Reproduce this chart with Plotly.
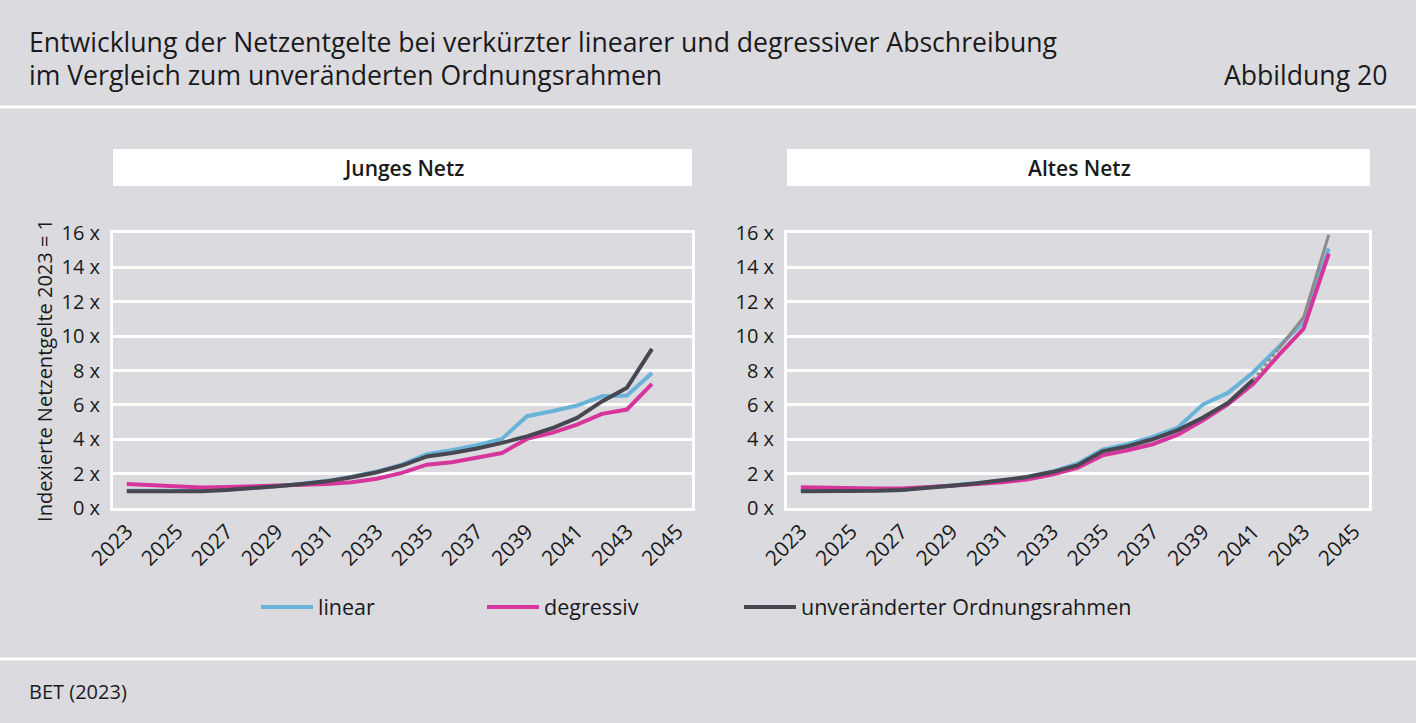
import plotly.graph_objects as go

# Jahre auf der x-Achse
years = list(range(2023, 2045))
tick_years = list(range(2023, 2046, 2))
y_ticks = [0, 2, 4, 6, 8, 10, 12, 14, 16]
y_labels = [f"{v} x" for v in y_ticks]

jung_linear = [1.0, 1.0, 1.0, 1.0, 1.07, 1.15, 1.27, 1.41, 1.57, 1.82, 2.12, 2.52,
               3.13, 3.36, 3.65, 4.02, 5.34, 5.63, 5.96, 6.5, 6.54, 7.86]
jung_degressiv = [1.4, 1.34, 1.27, 1.2, 1.22, 1.25, 1.29, 1.33, 1.39, 1.5, 1.7, 2.04,
                  2.52, 2.66, 2.91, 3.2, 4.02, 4.37, 4.85, 5.48, 5.73, 7.22]
jung_unveraendert = [0.98, 0.98, 0.98, 0.98, 1.05, 1.13, 1.26, 1.4, 1.55, 1.79, 2.08, 2.47,
                     3.0, 3.2, 3.46, 3.79, 4.17, 4.64, 5.24, 6.2, 7.0, 9.26]

alt_linear = [1.0, 1.0, 1.0, 1.0, 1.05, 1.2, 1.3, 1.44, 1.6, 1.8, 2.12, 2.58,
              3.4, 3.71, 4.14, 4.68, 6.03, 6.71, 7.9, 9.36, 10.82, 15.1]
alt_degressiv = [1.21, 1.17, 1.15, 1.13, 1.13, 1.2, 1.3, 1.4, 1.5, 1.66, 1.95, 2.34,
                 3.06, 3.36, 3.71, 4.27, 5.11, 6.05, 7.22, 8.88, 10.43, 14.8]
alt_unveraendert = [0.98, 0.98, 0.99, 1.0, 1.05, 1.2, 1.3, 1.44, 1.6, 1.8, 2.09, 2.48,
                    3.3, 3.59, 4.0, 4.53, 5.27, 6.13, 7.46]
alt_unv_years = list(range(2023, 2042))
# Fortsetzung des unveraenderten Rahmens (grau)
alt_fort_years = [2041, 2042, 2043, 2044]
alt_fort = [7.46, 9.25, 11.1, 15.9]

BG = "#dbdadf"
BLUE = "#69b3d8"
PINK = "#d6369b"
DARK = "#474752"
GRAY = "#8f8c88"
TXT = "#1a1a1a"
FONT = "Open Sans"

fig = go.Figure()

panels = [
    ("x", "y", jung_linear, jung_degressiv, jung_unveraendert, years),
    ("x2", "y2", alt_linear, alt_degressiv, alt_unveraendert, alt_unv_years),
]
for i, (xa, ya, lin, deg, unv, unv_x) in enumerate(panels):
    first = i == 0
    fig.add_trace(go.Scatter(x=years, y=lin, mode="lines", name="linear",
                             line=dict(color=BLUE, width=4), xaxis=xa, yaxis=ya,
                             showlegend=first, legend="legend"))
    fig.add_trace(go.Scatter(x=years, y=deg, mode="lines", name="degressiv",
                             line=dict(color=PINK, width=4), xaxis=xa, yaxis=ya,
                             showlegend=first, legend="legend2"))
    fig.add_trace(go.Scatter(x=unv_x, y=unv, mode="lines",
                             name="unveränderter Ordnungsrahmen",
                             line=dict(color=DARK, width=4), xaxis=xa, yaxis=ya,
                             showlegend=first, legend="legend3"))

# graue Fortsetzung im alten Netz: erst gepunktet, dann durchgezogen
fig.add_trace(go.Scatter(x=alt_fort_years[:2], y=alt_fort[:2], mode="lines",
                         line=dict(color=GRAY, width=3, dash="dot"),
                         xaxis="x2", yaxis="y2", showlegend=False))
fig.add_trace(go.Scatter(x=alt_fort_years[1:], y=alt_fort[1:], mode="lines",
                         line=dict(color=GRAY, width=3),
                         xaxis="x2", yaxis="y2", showlegend=False))

W, H = 1416, 723


def px(x):
    return x / W


def py(y):
    return 1 - y / H


xstyle = dict(range=[2022.45, 2045.6], tickvals=tick_years, tickangle=-45,
              showgrid=False, zeroline=False, showline=True, mirror=True,
              linecolor="white", linewidth=3, ticks="", automargin=False,
              tickfont=dict(family=FONT, size=21, color=TXT))
ystyle = dict(range=[0, 16], tickvals=y_ticks, ticktext=y_labels, showgrid=True,
              gridcolor="white", gridwidth=3, zeroline=False, showline=True,
              mirror=True, linecolor="white", linewidth=3, ticks="",
              automargin=False, ticklabelstandoff=6,
              tickfont=dict(family=FONT, size=20, color=TXT))

fig.update_layout(
    width=W, height=H,
    margin=dict(l=0, r=0, t=0, b=0),
    paper_bgcolor=BG, plot_bgcolor=BG,
    font=dict(family=FONT, color=TXT),
    xaxis=dict(domain=[px(113), px(692)], anchor="y", **xstyle),
    yaxis=dict(domain=[py(508), py(233)], anchor="x",
               title=dict(text="Indexierte Netzentgelte 2023 = 1",
                          font=dict(family=FONT, size=20), standoff=4),
               **ystyle),
    xaxis2=dict(domain=[px(787), px(1369)], anchor="y2", **xstyle),
    yaxis2=dict(domain=[py(508), py(233)], anchor="x2", **ystyle),
)

legend_style = dict(orientation="h", yanchor="middle", xanchor="left",
                    itemwidth=52, bgcolor="rgba(0,0,0,0)",
                    font=dict(family=FONT, size=21.5))
fig.update_layout(
    legend=dict(x=px(256), y=py(607), **legend_style),
    legend2=dict(x=px(482), y=py(607), **legend_style),
    legend3=dict(x=px(739), y=py(607), **legend_style),
)

# Kopfzeile, Trennlinien und Panel-Ueberschriften
shapes = [
    dict(type="line", xref="paper", yref="paper", x0=0, x1=1,
         y0=py(107), y1=py(107), line=dict(color="white", width=3)),
    dict(type="line", xref="paper", yref="paper", x0=0, x1=1,
         y0=py(659), y1=py(659), line=dict(color="white", width=3)),
    dict(type="rect", xref="paper", yref="paper", x0=px(113), x1=px(692),
         y0=py(186), y1=py(149), fillcolor="white", line=dict(width=0)),
    dict(type="rect", xref="paper", yref="paper", x0=px(787), x1=px(1370),
         y0=py(186), y1=py(149), fillcolor="white", line=dict(width=0)),
]
for s in shapes:
    fig.add_shape(**s)

annotations = [
    dict(text="Entwicklung der Netzentgelte bei verkürzter linearer und degressiver Abschreibung",
         x=px(27), y=py(42), xanchor="left", size=26.6, weight=400),
    dict(text="im Vergleich zum unveränderten Ordnungsrahmen",
         x=px(27), y=py(75), xanchor="left", size=26.6, weight=400),
    dict(text="Abbildung 20", x=px(1389), y=py(75), xanchor="right", size=26.6, weight=400),
    dict(text="Junges Netz", x=px(403), y=py(168), xanchor="center", size=21, weight=600),
    dict(text="Altes Netz", x=px(1079), y=py(168), xanchor="center", size=21, weight=600),
    dict(text="BET (2023)", x=px(27), y=py(691), xanchor="left", size=20, weight=400),
]
for a in annotations:
    fig.add_annotation(text=a["text"], x=a["x"], y=a["y"], xref="paper", yref="paper",
                       xanchor=a["xanchor"], yanchor="middle", showarrow=False,
                       font=dict(family=FONT, size=a["size"], color=TXT,
                                 weight=a["weight"]))

fig.write_html("out.html", config={"displayModeBar": False},
               post_script="document.body.style.margin='0';")
